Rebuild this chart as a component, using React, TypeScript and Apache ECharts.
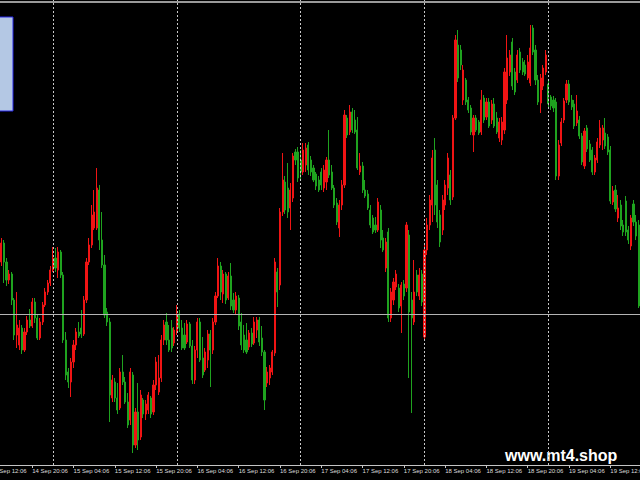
import { useEffect, useRef } from "react";
import * as echarts from "echarts";

// Candle values (price points), one entry per 30-minute bar
const opens = [
  218, 237, 218, 200, 206, 180, 145, 135, 152, 130,
  148, 160, 154, 178, 162, 142, 158, 175, 188, 197,
  210, 222, 210, 228, 205, 140, 108, 98, 118, 135,
  148, 152, 146, 180, 218, 235, 252, 252, 290, 240,
  215, 168, 158, 82, 98, 82, 72, 108, 98, 78,
  60, 105, 35, 68, 43, 80, 66, 70, 82, 68,
  95, 88, 102, 140, 158, 140, 152, 137, 148, 166,
  152, 145, 138, 156, 134, 100, 130, 158, 122, 110,
  120, 146, 130, 158, 184, 214, 186, 206, 182, 204,
  180, 170, 182, 158, 145, 140, 133, 147, 137, 150,
  160, 142, 128, 97, 102, 108, 127, 208, 195, 268,
  298, 292, 272, 282, 328, 328, 320, 308, 315, 335,
  320, 312, 306, 300, 308, 292, 298, 320, 308, 292,
  277, 252, 275, 295, 362, 348, 368, 360, 350, 308,
  314, 290, 286, 270, 262, 255, 250, 270, 242, 212,
  248, 162, 180, 193, 192, 174, 196, 192, 245, 180,
  158, 205, 184, 206, 143, 230, 255, 275, 330, 295,
  265, 250, 275, 292, 305, 283, 362, 435, 430, 380,
  400, 380, 372, 345, 362, 358, 348, 382, 363, 378,
  360, 376, 362, 342, 340, 350, 380, 408, 438, 408,
  400, 428, 418, 415, 402, 397, 452, 430, 400, 377,
  394, 408, 396, 383, 380, 378, 304, 337, 360, 380,
  396, 380, 376, 357, 360, 344, 314, 352, 336, 330,
  308, 320, 335, 340, 347, 343, 330, 278, 290, 262,
  275, 255, 279, 250, 234, 276, 258, 255,
];

const closes = [
  237, 218, 200, 206, 180, 145, 155, 152, 130, 148,
  160, 154, 178, 162, 142, 158, 175, 188, 197, 210,
  222, 212, 228, 205, 140, 105, 98, 118, 135, 148,
  144, 146, 180, 218, 235, 265, 268, 292, 240, 215,
  165, 158, 85, 100, 82, 70, 108, 98, 78, 55,
  108, 35, 68, 40, 85, 66, 76, 85, 66, 95,
  118, 102, 140, 155, 140, 130, 132, 150, 166, 152,
  132, 132, 156, 134, 100, 130, 158, 120, 105, 128,
  146, 130, 158, 184, 214, 188, 206, 180, 204, 174,
  170, 184, 154, 135, 130, 128, 147, 136, 158, 160,
  138, 128, 80, 108, 112, 128, 218, 188, 268, 300,
  270, 268, 290, 324, 320, 302, 308, 330, 332, 310,
  308, 300, 294, 290, 295, 310, 320, 305, 292, 275,
  258, 275, 295, 365, 345, 368, 350, 348, 312, 314,
  290, 284, 272, 255, 248, 250, 278, 240, 230, 238,
  162, 188, 198, 206, 172, 195, 184, 255, 168, 162,
  188, 188, 205, 178, 230, 255, 280, 322, 275, 258,
  238, 280, 295, 322, 280, 362, 440, 402, 415, 410,
  378, 370, 348, 362, 350, 347, 380, 360, 378, 354,
  376, 354, 348, 358, 358, 408, 422, 425, 394, 388,
  425, 410, 408, 406, 418, 432, 428, 400, 378, 402,
  412, 425, 376, 374, 372, 304, 335, 358, 379, 396,
  378, 373, 354, 369, 344, 318, 349, 331, 320, 308,
  322, 338, 352, 352, 334, 328, 279, 289, 271, 272,
  254, 248, 248, 240, 262, 258, 244, 174,
];

const highs = [
  242, 240, 222, 210, 208, 182, 188, 160, 155, 152,
  164, 171, 182, 182, 165, 162, 178, 192, 200, 214,
  233, 232, 233, 230, 208, 148, 112, 122, 140, 152,
  158, 170, 184, 222, 242, 275, 290, 312, 295, 268,
  225, 172, 162, 105, 102, 97, 112, 125, 103, 87,
  112, 108, 72, 97, 90, 82, 80, 88, 84, 100,
  123, 125, 145, 160, 167, 155, 160, 153, 175, 170,
  160, 157, 160, 158, 140, 134, 162, 162, 143, 132,
  150, 150, 162, 188, 222, 218, 210, 208, 208, 217,
  187, 188, 185, 167, 155, 157, 150, 152, 163, 163,
  163, 154, 130, 113, 115, 130, 222, 212, 272, 327,
  304, 317, 297, 327, 331, 333, 330, 337, 337, 338,
  324, 315, 308, 304, 312, 315, 323, 350, 315, 295,
  282, 280, 300, 370, 365, 375, 372, 370, 363, 327,
  318, 300, 290, 275, 265, 263, 282, 275, 250, 242,
  252, 192, 202, 210, 196, 198, 200, 258, 250, 188,
  220, 210, 212, 210, 235, 262, 285, 330, 342, 300,
  270, 285, 300, 327, 310, 365, 445, 450, 435, 415,
  402, 383, 375, 365, 365, 360, 390, 385, 382, 382,
  380, 382, 368, 362, 363, 412, 445, 430, 442, 412,
  430, 432, 422, 420, 425, 455, 455, 435, 405, 406,
  415, 430, 400, 385, 384, 382, 340, 362, 382, 400,
  400, 385, 380, 385, 364, 347, 352, 355, 340, 333,
  325, 342, 360, 355, 362, 346, 334, 294, 295, 285,
  280, 260, 284, 254, 265, 280, 265, 260,
];

const lows = [
  214, 197, 194, 196, 175, 140, 132, 130, 126, 128,
  145, 152, 152, 157, 140, 140, 155, 173, 185, 194,
  208, 208, 202, 202, 137, 100, 92, 83, 112, 130,
  142, 142, 144, 177, 215, 232, 250, 250, 230, 212,
  162, 154, 58, 78, 78, 66, 70, 95, 76, 52,
  55, 27, 32, 30, 40, 62, 60, 66, 62, 65,
  90, 85, 98, 135, 135, 128, 128, 134, 145, 148,
  130, 130, 136, 132, 96, 96, 122, 118, 102, 108,
  112, 93, 126, 155, 182, 180, 177, 176, 180, 170,
  167, 166, 150, 130, 127, 126, 130, 133, 135, 142,
  134, 124, 70, 93, 95, 105, 124, 173, 190, 264,
  266, 262, 250, 278, 315, 298, 300, 305, 308, 305,
  304, 298, 290, 288, 290, 288, 290, 302, 290, 272,
  255, 243, 270, 292, 342, 345, 347, 346, 310, 305,
  287, 282, 270, 252, 246, 247, 248, 232, 228, 208,
  158, 158, 175, 190, 168, 147, 180, 188, 102, 67,
  155, 184, 180, 174, 140, 225, 250, 258, 265, 252,
  233, 245, 270, 285, 275, 280, 360, 398, 410, 375,
  375, 367, 345, 328, 348, 345, 345, 357, 360, 352,
  356, 352, 346, 338, 335, 346, 376, 404, 390, 385,
  397, 407, 405, 404, 400, 394, 425, 395, 375, 367,
  390, 405, 372, 370, 368, 300, 300, 334, 357, 377,
  375, 370, 351, 354, 341, 315, 311, 328, 318, 305,
  305, 317, 332, 330, 331, 325, 276, 275, 268, 258,
  250, 244, 244, 236, 230, 254, 240, 172,
];

const tickLabels = [
  "14 Sep 20:06", "15 Sep 04:06", "15 Sep 12:06", "15 Sep 20:06",
  "16 Sep 04:06", "16 Sep 12:06", "16 Sep 20:06", "17 Sep 04:06",
  "17 Sep 12:06", "17 Sep 20:06", "18 Sep 04:06", "18 Sep 12:06",
  "18 Sep 20:06", "19 Sep 04:06", "19 Sep 12:06",
];
const leadingLabel = "14 Sep 12:06";
const firstLabelBar = 12;
const barsPerLabel = 16;
const dayStartBars = [20, 68, 116, 164, 212];
const levelPrice = 166;
const watermark = "www.mt4.shop";

const RED = "#f01414";
const GREEN = "#1fa31f";
const AXIS = "#c4c4c4";
const LABEL = "#dcdcdc";
const FONT = "Liberation Sans, Arial, sans-serif";

const isLabelBar = (i: number) => i >= firstLabelBar && (i - firstLabelBar) % barsPerLabel === 0;

export default function App() {
  const ref = useRef<HTMLDivElement>(null);

  useEffect(() => {
    if (!ref.current) return;
    const chart = echarts.init(ref.current, undefined, { renderer: "svg" });
    const categories = opens.map((_, i) => String(i));
    const data = opens.map((o, i) => [o, closes[i], lows[i], highs[i]]);

    chart.setOption({
      animation: false,
      backgroundColor: "#000000",
      grid: { left: 0, right: 0, top: 0, bottom: 15, containLabel: false, outerBoundsMode: "none" },
      xAxis: {
        type: "category",
        data: categories,
        boundaryGap: true,
        axisLine: { show: true, lineStyle: { color: AXIS, width: 1 } },
        axisTick: {
          show: true,
          alignWithLabel: true,
          interval: (i: number) => isLabelBar(i),
          length: 3,
          lineStyle: { color: AXIS, width: 1 },
        },
        axisLabel: {
          interval: (i: number) => isLabelBar(i),
          formatter: (_v: string, i: number) => tickLabels[(i - firstLabelBar) / barsPerLabel] ?? "",
          color: LABEL,
          fontSize: 6,
          fontFamily: FONT,
          align: "left",
          margin: 3,
        },
        splitLine: { show: false },
      },
      yAxis: { type: "value", min: 15, max: 480, show: false, splitLine: { show: false } },
      series: [
        {
          type: "candlestick",
          data,
          barWidth: 1.6,
          itemStyle: {
            color: RED,
            color0: GREEN,
            borderColor: RED,
            borderColor0: GREEN,
            borderWidth: 1,
          },
          markLine: {
            silent: true,
            animation: false,
            symbol: ["none", "none"],
            label: { show: false },
            data: [
              ...dayStartBars.map((b) => ({
                xAxis: String(b),
                lineStyle: { color: "#c8c8c8", width: 1, type: [2, 2] },
              })),
              { yAxis: levelPrice, lineStyle: { color: "#b4b4b4", width: 1, type: "solid" } },
            ],
          },
        },
      ],
      graphic: [
        {
          type: "line",
          shape: { x1: 0, y1: 2, x2: 640, y2: 2 },
          style: { stroke: "#9a9a9a", lineWidth: 2 },
          silent: true,
        },
        {
          type: "rect",
          shape: { x: -2, y: 17, width: 15, height: 94 },
          style: { fill: "#b4c8e4", stroke: "#2626e6", lineWidth: 1 },
          silent: true,
        },
        {
          type: "text",
          x: 1.29 - 4 * 2.58,
          y: 471,
          style: {
            text: leadingLabel,
            fill: LABEL,
            font: `6px ${FONT}`,
            verticalAlign: "middle",
            align: "left",
          },
          silent: true,
        },
        {
          type: "text",
          x: 505,
          y: 455,
          style: {
            text: watermark,
            fill: "#ffffff",
            font: `bold 16px ${FONT}`,
            verticalAlign: "middle",
            align: "left",
          },
          silent: true,
        },
      ],
    });

    return () => chart.dispose();
  }, []);

  return (
    <div
      ref={ref}
      style={{ position: "fixed", left: 0, top: 0, width: 640, height: 480 }}
    />
  );
}
